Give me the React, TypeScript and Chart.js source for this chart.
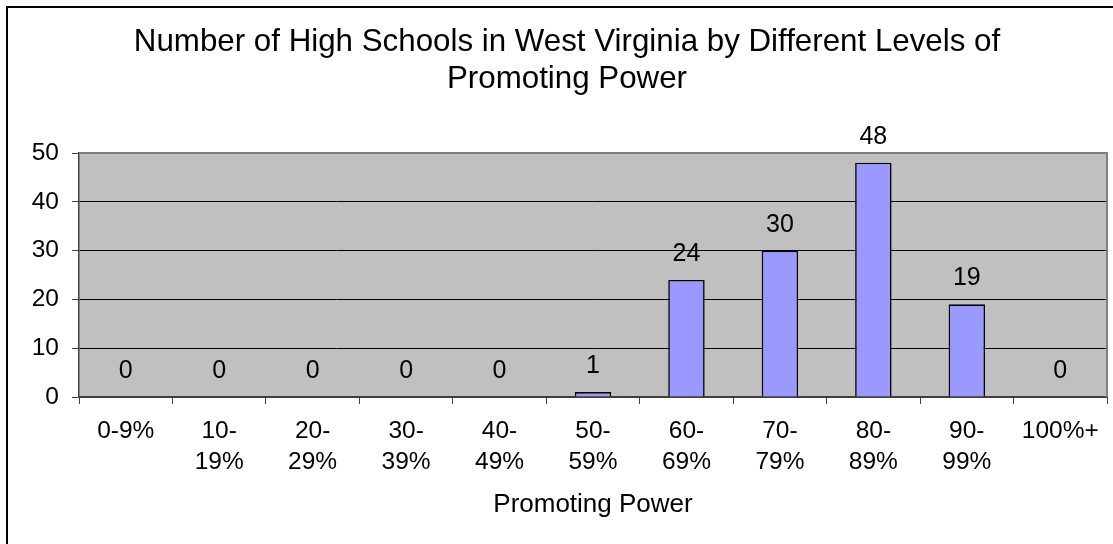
import React, { useEffect, useRef } from "react";
import { Chart, registerables } from "chart.js";

Chart.register(...registerables);

const categories = ["0-9%", "10-19%", "20-29%", "30-39%", "40-49%", "50-59%", "60-69%", "70-79%", "80-89%", "90-99%", "100%+"];
const values = [0, 0, 0, 0, 0, 1, 24, 30, 48, 19, 0];
const yTickValues = [0, 10, 20, 30, 40, 50];
const titleLines = ["Number of High Schools in West Virginia by Different Levels of", "Promoting Power"];
const xAxisTitle = "Promoting Power";

const FONT = "'Liberation Sans', Arial, sans-serif";

const framePlugin = {
  id: "frame",
  beforeDraw(chart: any) {
    const { ctx, chartArea } = chart;
    ctx.save();
    ctx.fillStyle = "#ffffff";
    ctx.fillRect(0, 0, chart.width, chart.height);
    ctx.strokeStyle = "#000000";
    ctx.lineWidth = 2;
    ctx.strokeRect(7, 7, chart.width + 40, chart.height + 40);
    ctx.fillStyle = "#C0C0C0";
    ctx.fillRect(chartArea.left, chartArea.top, chartArea.right - chartArea.left, chartArea.bottom - chartArea.top);
    ctx.restore();
  },
  afterDraw(chart: any) {
    const { ctx, chartArea } = chart;
    ctx.save();
    ctx.strokeStyle = "#808080";
    ctx.lineWidth = 2;
    ctx.beginPath();
    ctx.moveTo(chartArea.left, chartArea.top);
    ctx.lineTo(chartArea.right, chartArea.top);
    ctx.lineTo(chartArea.right, chartArea.bottom);
    ctx.stroke();
    ctx.restore();
  },
};

const labelPlugin = {
  id: "barLabels",
  afterDatasetsDraw(chart: any) {
    const { ctx } = chart;
    const meta = chart.getDatasetMeta(0);
    ctx.save();
    ctx.font = `25px ${FONT}`;
    ctx.fillStyle = "#000000";
    ctx.textAlign = "center";
    ctx.textBaseline = "alphabetic";
    meta.data.forEach((bar: any, i: number) => {
      ctx.fillText(String(values[i]), bar.x, bar.y - 19);
    });
    ctx.restore();
  },
};

export default function App() {
  const ref = useRef<HTMLCanvasElement>(null);
  useEffect(() => {
    document.body.style.margin = "0";
    const chart = new Chart(ref.current!, {
      type: "bar",
      data: {
        labels: categories,
        datasets: [
          {
            data: values,
            backgroundColor: "#9999FF",
            borderColor: "#000000",
            borderWidth: 1.6,
            categoryPercentage: 1,
            barPercentage: 0.39,
          },
        ],
      },
      options: {
        responsive: false,
        animation: false,
        layout: { padding: { left: 27, right: 6, top: 0, bottom: 0 } },
        plugins: {
          legend: { display: false },
          tooltip: { enabled: false },
          title: {
            display: true,
            text: titleLines,
            color: "#000000",
            font: { family: FONT, size: 31.3, weight: "normal", lineHeight: 37 / 31.3 },
            padding: { top: 24, bottom: 55 },
          },
        },
        scales: {
          x: {
            afterFit: (s: any) => {
              s.height = 147;
            },
            grid: { drawOnChartArea: false, drawTicks: true, tickLength: 7, color: "#404040", offset: true },
            border: { color: "#404040", width: 2 },
            ticks: {
              autoSkip: false,
              maxRotation: 0,
              minRotation: 0,
              padding: 12,
              color: "#000000",
              font: { family: FONT, size: 24.5, lineHeight: 30.7 / 24.5 },
              callback: (_v: any, i: number) => {
                const c = categories[i];
                const idx = c.indexOf("-");
                return idx >= 0 && c !== "0-9%" ? [c.slice(0, idx + 1), c.slice(idx + 1)] : c;
              },
            },
            title: {
              display: true,
              text: xAxisTitle,
              color: "#000000",
              font: { family: FONT, size: 26, lineHeight: 1.2 },
              padding: { top: 0, bottom: 23.6 },
            },
          },
          y: {
            min: 0,
            max: 50,
            afterFit: (s: any) => {
              s.width = 52;
            },
            afterBuildTicks: (s: any) => {
              s.ticks = yTickValues.map((v) => ({ value: v }));
            },
            grid: { color: "#000000", lineWidth: 1, tickColor: "#404040", tickLength: 7 },
            border: { color: "#404040", width: 1.5 },
            ticks: {
              padding: 13,
              color: "#000000",
              font: { family: FONT, size: 24.5 },
            },
          },
        },
      },
      plugins: [framePlugin, labelPlugin],
    });
    return () => chart.destroy();
  }, []);
  return (
    <div style={{ position: "absolute", left: 0, top: 0, width: 1113, height: 544 }}>
      <canvas ref={ref} width={1113} height={544} />
    </div>
  );
}
